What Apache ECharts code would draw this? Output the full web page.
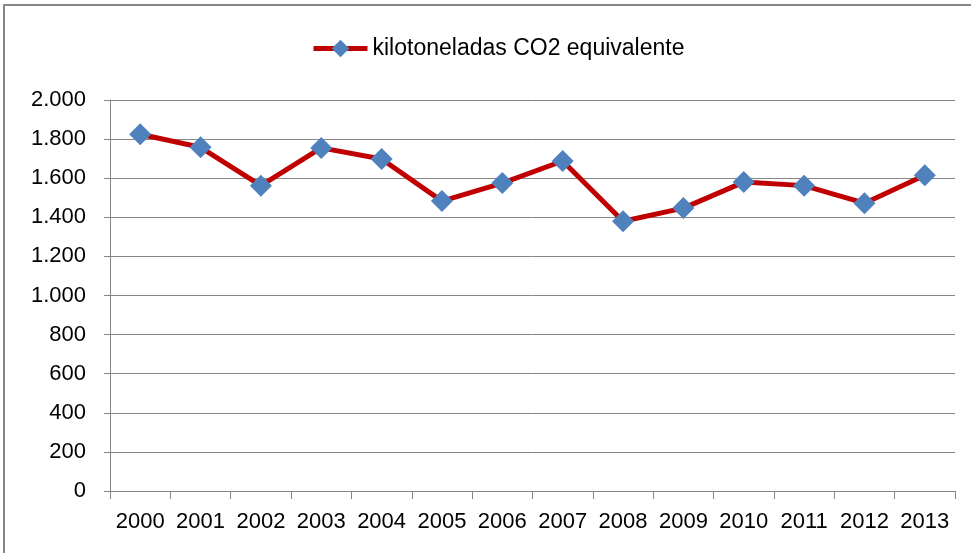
<!DOCTYPE html>
<html>
<head>
<meta charset="utf-8">
<style>
  html, body { margin: 0; padding: 0; background: #fff; }
  #chart { width: 971px; height: 553px; }
</style>
</head>
<body>
<div id="chart"></div>
<script src="https://cdn.jsdelivr.net/npm/echarts@6.0.0/dist/echarts.min.js"></script>
<script>
  const years = ['2000', '2001', '2002', '2003', '2004', '2005', '2006',
                 '2007', '2008', '2009', '2010', '2011', '2012', '2013'];
  const emissions = [1825, 1758, 1562, 1755, 1698, 1483, 1575,
                     1688, 1380, 1447, 1580, 1562, 1472, 1615];
  const seriesName = 'kilotoneladas CO2 equivalente';

  const chart = echarts.init(document.getElementById('chart'));

  // separador de miles con punto
  const fmt = v => String(v).replace(/\B(?=(\d{3})+(?!\d))/g, '.');

  const option = {
    animation: false,
    textStyle: { fontFamily: 'Liberation Sans', color: '#000' },
    graphic: [{
      type: 'rect',
      shape: { x: 4, y: 5, width: 1000, height: 600 },
      style: { fill: 'none', stroke: '#868686', lineWidth: 2 },
      silent: true
    }],
    legend: {
      top: 32,
      left: 306,
      itemWidth: 54,
      itemHeight: 22,
      itemGap: 6,
      lineStyle: { width: 5 },
      textStyle: { fontSize: 23, color: '#000', fontFamily: 'Liberation Sans' },
      data: [seriesName]
    },
    grid: { left: 110, right: 16, top: 100, bottom: 62 },
    xAxis: {
      type: 'category',
      data: years,
      boundaryGap: true,
      axisLine: { lineStyle: { color: '#868686', width: 1 } },
      axisTick: { show: true, length: 8, lineStyle: { color: '#868686' } },
      axisLabel: { fontSize: 22, color: '#000', margin: 20, interval: 0 }
    },
    yAxis: {
      type: 'value',
      min: 0,
      max: 2000,
      interval: 200,
      axisLine: { show: true, lineStyle: { color: '#868686', width: 1 } },
      axisTick: { show: true, length: 6, lineStyle: { color: '#868686' } },
      splitLine: { lineStyle: { color: '#868686', width: 1 } },
      axisLabel: { fontSize: 22, color: '#000', margin: 24, formatter: fmt }
    },
    series: [{
      name: seriesName,
      type: 'line',
      data: emissions,
      symbol: 'diamond',
      symbolSize: 22,
      lineStyle: { color: '#C00000', width: 5 },
      itemStyle: { color: '#4F81BD' }
    }]
  };

  chart.setOption(option);
</script>
</body>
</html>
